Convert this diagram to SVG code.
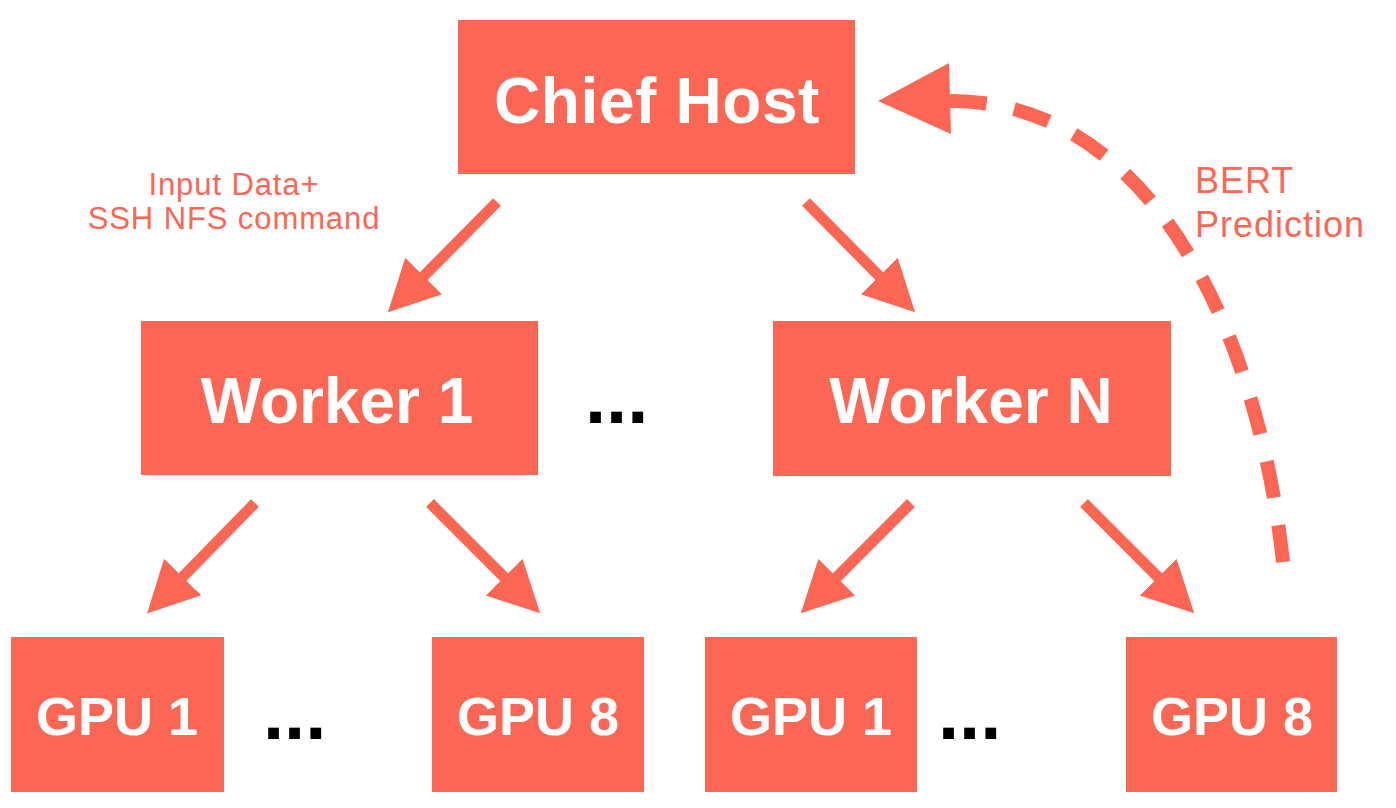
<svg xmlns="http://www.w3.org/2000/svg" width="1396" height="808" viewBox="0 0 1396 808">
  <style>
    .box { fill: #FC6655; }
    .lbl { font-family: "Liberation Sans", Arial, sans-serif; font-weight: bold; fill: #FFFFFF; text-anchor: middle; }
    .big { font-size: 64px; }
    .gpu { font-size: 54px; }
    .dots { font-family: "Liberation Sans", Arial, sans-serif; font-weight: bold; font-size: 76px; fill: #000000; }
    .note { font-family: "Liberation Sans", Arial, sans-serif; fill: #FC6655; }
    .arrow { stroke: #FC6655; stroke-width: 11; fill: none; marker-end: url(#head); }
    .dash { stroke: #FC6655; stroke-width: 14; fill: none; stroke-dasharray: 37 28; }
  </style>
  <defs>
    <marker id="head" markerUnits="userSpaceOnUse" markerWidth="52" markerHeight="54" refX="21" refY="27" orient="auto" viewBox="0 0 52 54">
      <path d="M0,1 L51,27 L0,53 Z" fill="#FC6655"/>
    </marker>
  </defs>
  <rect width="1396" height="808" fill="#FFFFFF"/>

  <g id="connectors">
    <line class="arrow" x1="497" y1="202" x2="409" y2="291"/>
    <line class="arrow" x1="806" y1="202" x2="894" y2="291"/>
    <line class="arrow" x1="255" y1="503" x2="168" y2="592"/>
    <line class="arrow" x1="430" y1="503" x2="519" y2="592"/>
    <line class="arrow" x1="911" y1="503" x2="822" y2="592"/>
    <line class="arrow" x1="1084" y1="503" x2="1173" y2="592"/>
    <path class="dash" d="M1283,562 C1258,330 1150,100 950,101"/>
    <polygon points="878,101 949,63 951,134" fill="#FC6655"/>
  </g>

  <g id="chief">
    <rect class="box" x="458" y="20" width="397" height="154"/>
    <text class="lbl big" x="657" y="123" letter-spacing="0.6">Chief Host</text>
  </g>
  <g id="worker1">
    <rect class="box" x="141" y="321" width="397" height="154"/>
    <text class="lbl big" x="337" y="423">Worker 1</text>
  </g>
  <g id="workerN">
    <rect class="box" x="773" y="321" width="398" height="155"/>
    <text class="lbl big" x="971" y="423">Worker N</text>
  </g>
  <g id="gpu1a">
    <rect class="box" x="11" y="637" width="213" height="155"/>
    <text class="lbl gpu" x="117" y="735">GPU 1</text>
  </g>
  <g id="gpu8a">
    <rect class="box" x="432" y="637" width="212" height="155"/>
    <text class="lbl gpu" x="538" y="735">GPU 8</text>
  </g>
  <g id="gpu1b">
    <rect class="box" x="705" y="637" width="212" height="155"/>
    <text class="lbl gpu" x="811" y="735">GPU 1</text>
  </g>
  <g id="gpu8b">
    <rect class="box" x="1126" y="637" width="211" height="155"/>
    <text class="lbl gpu" x="1232" y="735">GPU 8</text>
  </g>

  <g id="ellipses">
    <text class="dots" x="585" y="423">...</text>
    <text class="dots" x="263" y="739">...</text>
    <text class="dots" x="938" y="739">...</text>
  </g>

  <g id="labels">
    <text class="note" x="234" y="195" font-size="31" letter-spacing="0.9" text-anchor="middle">Input Data+</text>
    <text class="note" x="234" y="229" font-size="31" letter-spacing="0.9" text-anchor="middle">SSH NFS command</text>
    <text class="note" x="1195" y="193" font-size="36" letter-spacing="1">BERT</text>
    <text class="note" x="1195" y="237" font-size="36" letter-spacing="1">Prediction</text>
  </g>
</svg>
